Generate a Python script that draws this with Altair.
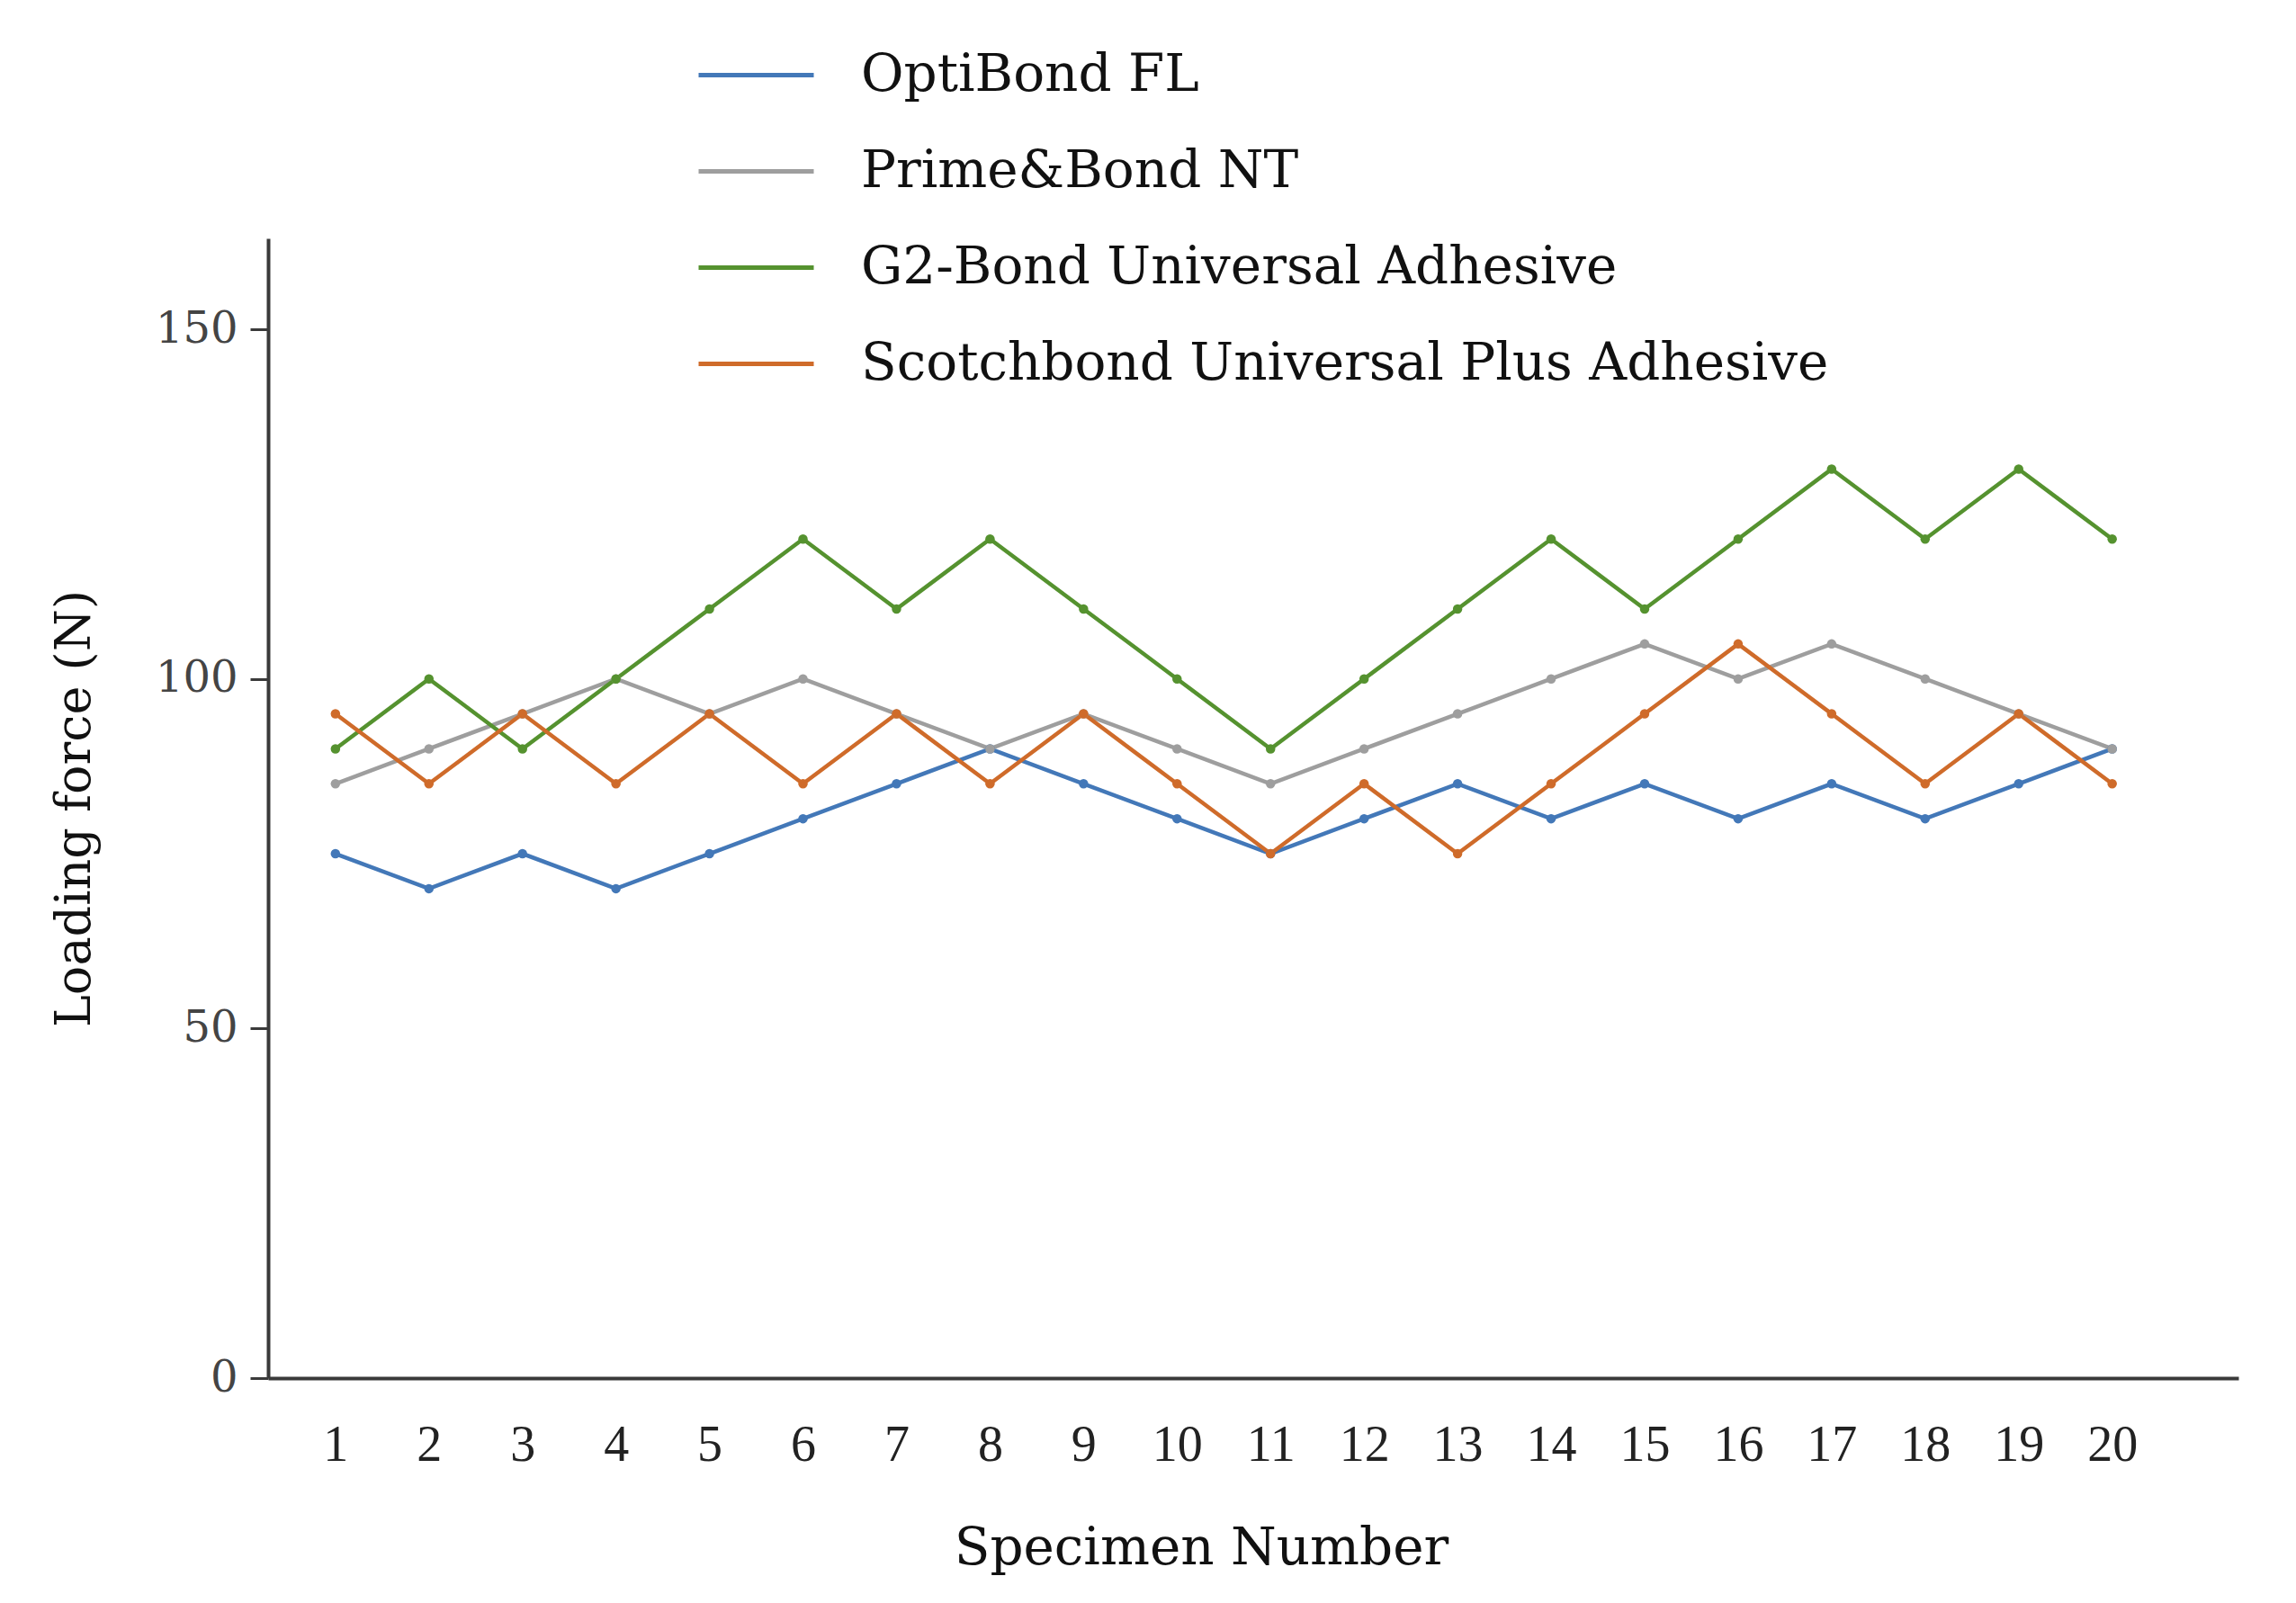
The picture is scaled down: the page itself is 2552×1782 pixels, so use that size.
import altair as alt
import pandas as pd

specimens = list(range(1, 21))
series_names = [
    "OptiBond FL",
    "Prime&Bond NT",
    "G2-Bond Universal Adhesive",
    "Scotchbond Universal Plus Adhesive",
]
optibond = [75, 70, 75, 70, 75, 80, 85, 90, 85, 80, 75, 80, 85, 80, 85, 80, 85, 80, 85, 90]
primebond = [85, 90, 95, 100, 95, 100, 95, 90, 95, 90, 85, 90, 95, 100, 105, 100, 105, 100, 95, 90]
g2bond = [90, 100, 90, 100, 110, 120, 110, 120, 110, 100, 90, 100, 110, 120, 110, 120, 130, 120, 130, 120]
scotchbond = [95, 85, 95, 85, 95, 85, 95, 85, 95, 85, 75, 85, 75, 85, 95, 105, 95, 85, 95, 85]
colors = ["#4378b8", "#9e9e9e", "#55922f", "#cf6b2a"]
y_ticks = [0, 50, 100, 150]

rows = []
for name, vals in zip(series_names, [optibond, primebond, g2bond, scotchbond]):
    for s, v in zip(specimens, vals):
        rows.append({"Specimen": s, "Force": v, "Series": name})
df = pd.DataFrame(rows)

color = alt.Color(
    "Series:N",
    scale=alt.Scale(domain=series_names, range=colors),
    legend=alt.Legend(
        title=None,
        orient="none",
        legendX=476,
        legendY=-248,
        symbolType="stroke",
        symbolSize=16384,
        symbolStrokeWidth=5,
        labelFont="DejaVu Serif",
        labelFontSize=58,
        labelColor="#111111",
        labelOffset=50,
        rowPadding=11,
        labelLimit=2000,
    ),
)

chart = (
    alt.Chart(df)
    .mark_line(strokeWidth=4.5, point=alt.OverlayMarkDef(filled=True, size=110))
    .encode(
        x=alt.X(
            "Specimen:Q",
            scale=alt.Scale(domain=[0.28, 21.35], nice=False, zero=False),
            axis=alt.Axis(
                values=specimens,
                title="Specimen Number",
                grid=False,
                ticks=False,
                labelFont="Liberation Serif",
                labelFontSize=56,
                labelColor="#222222",
                labelPadding=47,
                titleFont="DejaVu Serif",
                titleFontSize=58,
                titleFontWeight="normal",
                titleColor="#111111",
                titlePadding=58,
                titleX=1037,
                domainColor="#3a3a3a",
                domainWidth=4,
                labelFlush=False,
            ),
        ),
        y=alt.Y(
            "Force:Q",
            scale=alt.Scale(domain=[0, 163], nice=False),
            axis=alt.Axis(
                values=y_ticks,
                title="Loading force (N)",
                grid=False,
                tickSize=20,
                tickWidth=3,
                tickColor="#3a3a3a",
                labelFont="DejaVu Serif",
                labelFontSize=48,
                labelColor="#444444",
                labelPadding=14,
                titleFont="DejaVu Serif",
                titleFontSize=54,
                titleFontWeight="normal",
                titleColor="#111111",
                titlePadding=62,
                domainColor="#3a3a3a",
                domainWidth=4,
            ),
        ),
        color=color,
        detail="Series:N",
    )
    .properties(
        width=2190,
        height=1267,
        background="white",
        autosize=alt.AutoSizeParams(type="none"),
        padding={"left": 290, "top": 257, "right": 40, "bottom": 230},
    )
    .configure_view(strokeWidth=0, stroke=None)
)

chart.save("out.html", embed_options={"renderer": "svg", "actions": False})
